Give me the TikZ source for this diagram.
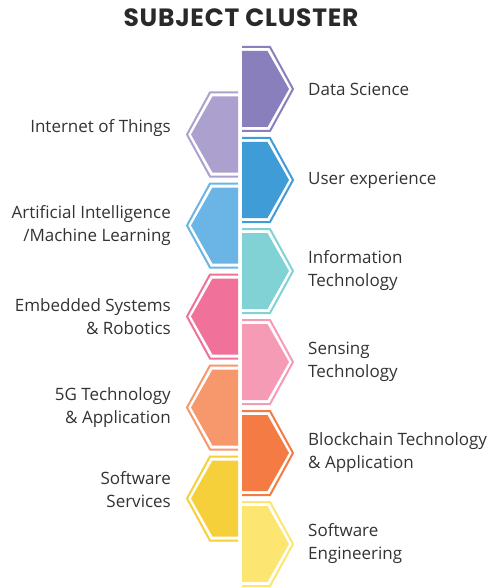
\documentclass[tikz,border=0pt]{standalone}
\usepackage{fontspec}
\setmainfont{Open Sans}
\newfontfamily\titlefont{Poppins}[LetterSpace=3]
\usepackage{xcolor}
\usetikzlibrary{positioning}

\definecolor{dsci}{HTML}{8A7FBD}
\definecolor{iot}{HTML}{ACA0CE}
\definecolor{uxp}{HTML}{409CD6}
\definecolor{aiml}{HTML}{6AB5E5}
\definecolor{itech}{HTML}{80D2D4}
\definecolor{embed}{HTML}{F0719A}
\definecolor{sens}{HTML}{F59BB6}
\definecolor{fiveg}{HTML}{F7976C}
\definecolor{bchain}{HTML}{F47B44}
\definecolor{swserv}{HTML}{F5D03B}
\definecolor{sweng}{HTML}{FDE572}
\definecolor{ink}{HTML}{333333}

% half hexagon on the right of the spine: #1 centre y, #2 colour
\newcommand{\rightcell}[2]{%
	\draw[#2, line width=2pt] (242,#1-42) -- (270,#1-42) -- (293,#1) -- (270,#1+42) -- (242,#1+42);
	\fill[#2] (242,#1-38) -- (267.5,#1-38) -- (289,#1) -- (267.5,#1+38) -- (242,#1+38) -- cycle;
}
% half hexagon on the left of the spine
\newcommand{\leftcell}[2]{%
	\draw[#2, line width=2pt] (238,#1-42) -- (210,#1-42) -- (187,#1) -- (210,#1+42) -- (238,#1+42);
	\fill[#2] (238,#1-38) -- (212.5,#1-38) -- (191,#1) -- (212.5,#1+38) -- (238,#1+38) -- cycle;
}

\begin{document}
\begin{tikzpicture}[x=1pt,y=-1pt,
	rtext/.style={anchor=west, inner sep=0pt, align=left, text=ink, font=\fontsize{17}{23}\selectfont},
	ltext/.style={anchor=east, inner sep=0pt, align=right, text=ink, font=\fontsize{17}{23}\selectfont}]
	\useasboundingbox (0,0) rectangle (492,588);
	
	\node[font=\titlefont\bfseries\fontsize{25}{26}\selectfont, text=ink!80!black] (title) at (241,17.5) {SUBJECT CLUSTER};
	
	\rightcell{89}{dsci}
	\leftcell{134.5}{iot}
	\rightcell{180}{uxp}
	\leftcell{225.5}{aiml}
	\rightcell{271}{itech}
	\leftcell{316.5}{embed}
	\rightcell{362}{sens}
	\leftcell{407.5}{fiveg}
	\rightcell{453}{bchain}
	\leftcell{498.5}{swserv}
	\rightcell{544}{sweng}
	
	\node[rtext] (ds) at (308,89) {Data Science};
	\node[rtext] (ux) at (308,180) {User experience};
	\node[rtext] (it) at (308,271) {Information\\Technology};
	\node[rtext] (st) at (308,362) {Sensing\\Technology};
	\node[rtext] (bc) at (308,453) {Blockchain Technology\\\& Application};
	\node[rtext] (se) at (308,544) {Software\\Engineering};
	
	\node[ltext] (io) at (171,128) {Internet of Things};
	\node[ltext] (ai) at (171,225.5) {Artificial Intelligence\\/Machine Learning};
	\node[ltext] (er) at (171,316.5) {Embedded Systems\\\& Robotics};
	\node[ltext] (fg) at (171,407.5) {5G Technology\\\& Application};
	\node[ltext] (ss) at (171,490) {Software\\Services};
\end{tikzpicture}
\end{document}
